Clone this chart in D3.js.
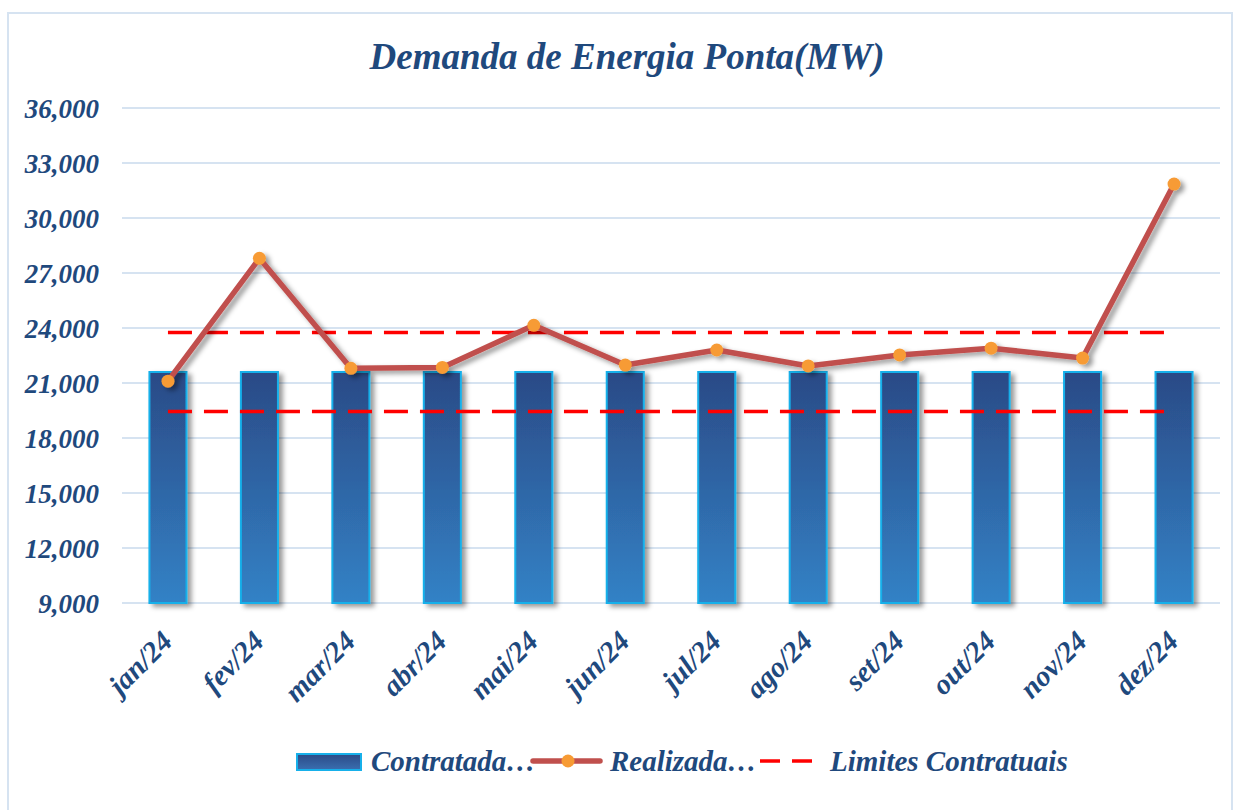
<!DOCTYPE html>
<html>
<head>
<meta charset="utf-8">
<script src="https://cdn.jsdelivr.net/npm/d3@7"></script>
<style>
  body { margin: 0; background: #fff; }
  text { font-family: "Liberation Serif", "Times New Roman", serif; font-style: italic; font-weight: bold; fill: #1f497d; }
</style>
</head>
<body>
<div class="container"></div>
<script>
const months = ["jan/24", "fev/24", "mar/24", "abr/24", "mai/24", "jun/24", "jul/24", "ago/24", "set/24", "out/24", "nov/24", "dez/24"];
const contratada = [21600, 21600, 21600, 21600, 21600, 21600, 21600, 21600, 21600, 21600, 21600, 21600];
const realizada = [21100, 27800, 21800, 21850, 24150, 21980, 22800, 21930, 22530, 22900, 22360, 31850];
const limiteSup = [23760, 23760, 23760, 23760, 23760, 23760, 23760, 23760, 23760, 23760, 23760, 23760];
const limiteInf = [19440, 19440, 19440, 19440, 19440, 19440, 19440, 19440, 19440, 19440, 19440, 19440];
const yTicks = [9000, 12000, 15000, 18000, 21000, 24000, 27000, 30000, 33000, 36000];

const W = 1239, H = 810;
const margin = { top: 108, right: 19, bottom: 207, left: 122 };
const width = W - margin.left - margin.right,
  height = H - margin.top - margin.bottom;

const svg = d3.select(".container").append("svg")
  .attr("width", W).attr("height", H);

const defs = svg.append("defs");
const grad = defs.append("linearGradient").attr("id", "barGrad")
  .attr("x1", 0).attr("y1", 0).attr("x2", 0).attr("y2", 1);
grad.append("stop").attr("offset", "0%").attr("stop-color", "#2b4a86");
grad.append("stop").attr("offset", "100%").attr("stop-color", "#3282c6");
const gradL = defs.append("linearGradient").attr("id", "legGrad")
  .attr("x1", 0).attr("y1", 0).attr("x2", 0).attr("y2", 1);
gradL.append("stop").attr("offset", "0%").attr("stop-color", "#2b4a86");
gradL.append("stop").attr("offset", "100%").attr("stop-color", "#3a6fb0");
const shadow = defs.append("filter").attr("id", "shadow")
  .attr("x", "-20%").attr("y", "-20%").attr("width", "160%").attr("height", "160%");
shadow.append("feDropShadow").attr("dx", 4).attr("dy", 3).attr("stdDeviation", 2.5)
  .attr("flood-color", "#000").attr("flood-opacity", 0.4);

// outer border
svg.append("rect").attr("x", 8).attr("y", 13).attr("width", 1224).attr("height", 810)
  .attr("fill", "none").attr("stroke", "#d6e3f1").attr("stroke-width", 2);

svg.append("text").attr("x", 627).attr("y", 69).attr("text-anchor", "middle")
  .style("font-size", "37px").text("Demanda de Energia Ponta(MW)");

const g = svg.append("g").attr("transform", `translate(${margin.left},${margin.top})`);

const x = d3.scaleBand().domain(months).range([0, width]).paddingInner(0.595).paddingOuter(0.3);
const y = d3.scaleLinear().domain([9000, 36000]).range([height, 0]);

g.append("g").selectAll("line").data(yTicks).enter().append("line")
  .attr("x1", 0).attr("x2", width)
  .attr("y1", d => y(d)).attr("y2", d => y(d))
  .attr("stroke", "#d6e3f1").attr("stroke-width", 2);

const yAxis = d3.axisLeft(y).tickValues(yTicks).tickFormat(d3.format(",")).tickSize(0).tickPadding(23);
g.append("g").call(yAxis)
  .call(s => s.select(".domain").remove())
  .selectAll("text").style("font-size", "27px").attr("dy", "0.35em");

// bars
g.append("g").selectAll("rect").data(contratada).enter().append("rect")
  .attr("x", (d, i) => x(months[i]))
  .attr("y", d => y(d))
  .attr("width", x.bandwidth())
  .attr("height", d => height - y(d))
  .attr("fill", "url(#barGrad)")
  .attr("stroke", "#17b0ea").attr("stroke-width", 2)
  .attr("filter", "url(#shadow)");

const cx = i => x(months[i]) + x.bandwidth() / 2;

// limits
const limLine = d3.line().x((d, i) => cx(i)).y(d => y(d));
[limiteSup, limiteInf].forEach(arr => {
  g.append("path").datum(arr).attr("d", limLine)
    .attr("fill", "none").attr("stroke", "#ff0000").attr("stroke-width", 3.5)
    .attr("stroke-dasharray", "24,12");
});

// realizada
const lineG = g.append("g").attr("filter", "url(#shadow)");
lineG.append("path").datum(realizada).attr("d", limLine)
  .attr("fill", "none").attr("stroke", "#c0504d").attr("stroke-width", 5.5)
  .attr("stroke-linejoin", "round");
lineG.selectAll("circle").data(realizada).enter().append("circle")
  .attr("cx", (d, i) => cx(i)).attr("cy", d => y(d)).attr("r", 6.5)
  .attr("fill", "#f79b34");

// x labels
g.append("g").selectAll("text").data(months).enter().append("text")
  .attr("transform", (d, i) => `translate(${cx(i) + 6},${height + 40}) rotate(-45)`)
  .attr("text-anchor", "end").style("font-size", "29px")
  .text(d => d);

// legend
const leg = svg.append("g").attr("transform", "translate(0,761)");
leg.append("rect").attr("x", 297).attr("y", -7).attr("width", 64).attr("height", 16)
  .attr("fill", "url(#legGrad)").attr("stroke", "#17b0ea").attr("stroke-width", 2);
leg.append("text").attr("x", 371).attr("y", 10).style("font-size", "29px").text("Contratada…");
leg.append("line").attr("x1", 533).attr("x2", 600).attr("y1", 0).attr("y2", 0)
  .attr("stroke", "#c0504d").attr("stroke-width", 5.5).attr("stroke-linecap", "round");
leg.append("circle").attr("cx", 568).attr("cy", 0).attr("r", 6.5).attr("fill", "#f79b34");
leg.append("text").attr("x", 610).attr("y", 10).style("font-size", "29px").text("Realizada…");
leg.append("line").attr("x1", 760).attr("x2", 812).attr("y1", 0).attr("y2", 0)
  .attr("stroke", "#ff0000").attr("stroke-width", 3.5).attr("stroke-dasharray", "20,12");
leg.append("text").attr("x", 830).attr("y", 10).style("font-size", "29px").text("Limites Contratuais");
</script>
</body>
</html>
